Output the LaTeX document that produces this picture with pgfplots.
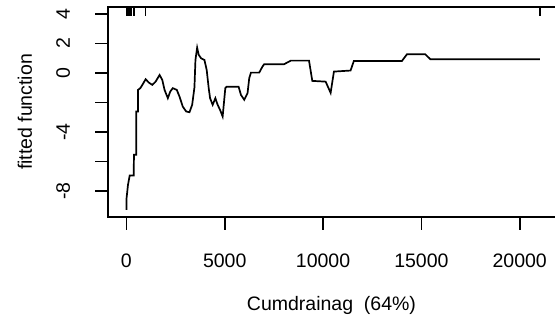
\documentclass[border=0pt]{standalone}
\usepackage{pgfplots}
\pgfplotsset{compat=1.18}
\usepackage{fontspec}
\setmainfont{Liberation Sans}
\begin{document}
\begin{tikzpicture}
\begin{axis}[
  at={(0,0)}, anchor=south west,
  scale only axis, width=457pt, height=210pt,
  xmin=-936, xmax=22303, ymin=-9.75, ymax=4.46,
  axis line style={line width=1.6pt},
  scaled x ticks=false, scaled y ticks=false,
  xtick={0,5000,10000,15000,20000},
  xticklabels={0,5000,10000,15000,20000},
  ytick={-8,-6,-4,-2,0,2,4},
  yticklabels={-8,,-4,,0,2,4},
  tick align=outside,
  xtick pos=bottom, ytick pos=left,
  major tick length=12.5pt,
  tick style={line width=1.6pt, black},
  ticklabel style={font=\fontsize{19.5}{23}\selectfont, text=black},
  xticklabel style={anchor=north},
  yticklabel style={rotate=90, anchor=south},
  xticklabel shift=21pt,
  yticklabel shift=22pt,
  xlabel={Cumdrainag\ \ (64\%)},
  ylabel={fitted function},
  label style={font=\fontsize{19.5}{23}\selectfont},
  xlabel style={at={(axis description cs:0.489,-0.4476)}, anchor=base},
  ylabel style={at={(axis description cs:-0.1663,0.5)}, anchor=base},
]
\addplot[black, line width=1.7pt] coordinates {
(0,-9.26)(0,-8.58)(81,-7.57)(167,-6.94)(370,-6.94)(385,-5.54)(496,-5.54)
(496,-2.61)(588,-2.61)(588,-1.15)(709,-1.03)(811,-0.81)(978,-0.43)
(1145,-0.66)(1317,-0.81)(1484,-0.59)(1687,-0.14)(1824,-0.47)(1940,-1.15)
(2107,-1.71)(2229,-1.26)(2361,-1.03)(2563,-1.15)(2700,-1.60)(2867,-2.28)
(3040,-2.61)(3207,-2.66)(3344,-2.16)(3460,-0.98)(3511,0.88)(3597,1.71)
(3678,1.22)(3800,0.99)(3967,0.88)(4083,0.20)(4185,-1.03)(4255,-1.71)
(4387,-2.16)(4524,-1.71)(4640,-2.16)(4762,-2.50)(4894,-2.95)(5030,-1.03)
(5096,-0.93)(5704,-0.93)(5826,-1.49)(5993,-1.82)(6160,-1.37)(6246,-0.36)
(6333,0.02)(6753,0.02)(6920,0.43)(7006,0.59)(8020,0.59)(8359,0.83)
(9286,0.83)(9453,-0.54)(10132,-0.59)(10385,-1.35)(10553,0.09)(11399,0.16)
(11566,0.81)(14013,0.81)(14266,1.26)(15198,1.26)(15451,0.93)(21024,0.93)
};
\addplot[black, only marks, mark=|, mark size=4.5pt, mark options={line width=1.6pt}] coordinates {
(0,4.154)(50,4.154)(100,4.154)(150,4.154)(200,4.154)(250,4.154)(380,4.154)(980,4.154)(21020,4.154)
};
\end{axis}
\pgfresetboundingbox
\useasboundingbox (-108pt,-105pt) rectangle (447pt,217pt);
\end{tikzpicture}
\end{document}
